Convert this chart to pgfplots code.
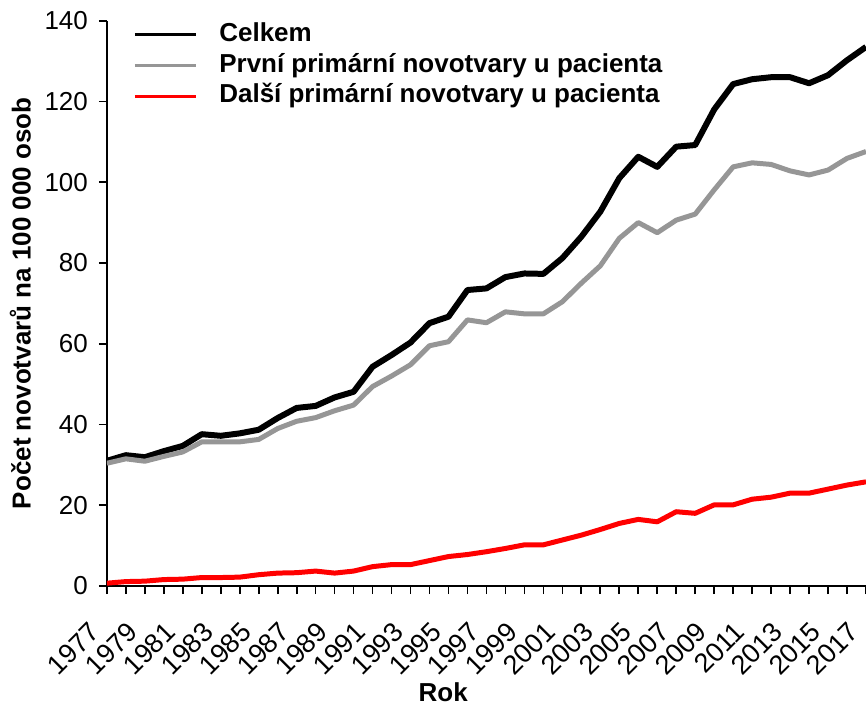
\documentclass[border=0pt]{standalone}
\usepackage{fontspec}
\setmainfont{Liberation Sans}
\usepackage{pgfplots}
\pgfplotsset{compat=1.18}

\definecolor{prvni}{RGB}{150,150,150}
\definecolor{dalsi}{RGB}{255,0,0}

% rok, celkem, prvni, dalsi
\pgfplotstableread{
rok celkem prvni dalsi
1977 31.0 30.4 0.7
1978 32.4 31.5 1.1
1979 31.9 30.9 1.2
1980 33.4 32.1 1.6
1981 34.7 33.2 1.7
1982 37.6 35.7 2.1
1983 37.2 35.7 2.1
1984 37.8 35.7 2.2
1985 38.7 36.3 2.8
1986 41.6 39.0 3.2
1987 44.1 40.8 3.3
1988 44.6 41.7 3.7
1989 46.7 43.4 3.2
1990 48.1 44.8 3.7
1991 54.3 49.4 4.8
1992 57.2 52.0 5.3
1993 60.3 54.8 5.3
1994 65.1 59.5 6.3
1995 66.7 60.5 7.3
1996 73.3 65.9 7.8
1997 73.7 65.2 8.5
1998 76.5 67.9 9.3
1999 77.4 67.4 10.2
2000 77.3 67.4 10.2
2001 81.2 70.4 11.4
2002 86.5 75.0 12.6
2003 92.7 79.3 14.0
2004 101.0 86.1 15.5
2005 106.3 90.0 16.5
2006 103.8 87.5 15.9
2007 108.8 90.6 18.4
2008 109.2 92.1 18.0
2009 118.0 98.1 20.1
2010 124.3 103.8 20.1
2011 125.5 104.8 21.5
2012 126.0 104.4 22.0
2013 126.0 102.8 23.0
2014 124.5 101.8 23.0
2015 126.5 103.0 24.0
2016 130.2 105.9 25.0
2017 133.5 107.6 25.8
}\data

\begin{document}
\begin{tikzpicture}
\begin{axis}[
  scale only axis,
  width=380pt, height=283pt,
  xmin=1977, xmax=2017,
  ymin=0, ymax=140,
  axis x line*=bottom, axis y line*=left,
  axis line style={line width=0.85pt},
  tick align=outside,
  tick style={black, line width=0.85pt},
  major tick length=4pt, minor tick length=4pt,
  xtick={1977,1979,...,2017},
  minor xtick={1978,1980,...,2016},
  ytick={0,20,...,140},
  /pgf/number format/assume math mode=true,
  ticklabel style={font=\fontsize{13}{15}\selectfont},
  xticklabel style={/pgf/number format/1000 sep={}, font=\fontsize{13.5}{15}\selectfont,
    xshift=-1pt, yshift=-2pt, rotate=45, anchor=east, inner xsep=7pt, inner ysep=1pt},
  xticklabel shift=9.6pt,
  yticklabel style={xshift=-2pt},
  xlabel={Rok},
  ylabel={Počet novotvarů na 100 000 osob},
  label style={font=\bfseries\fontsize{13}{15}\selectfont},
  xlabel style={at={(rel axis cs:0.443,0)}, anchor=north, yshift=-45pt},
  legend style={draw=none, fill=none, at={(rel axis cs:0,1)}, anchor=north west,
    xshift=13pt, yshift=1pt, inner sep=0pt, column sep=10pt, row sep=0pt,
    nodes={inner sep=1pt, text height=10pt, text depth=3.5pt},
    font=\bfseries\fontsize{13}{15}\selectfont},
  legend cell align=left,
  legend image code/.code={\draw[#1, line width=1.6pt] (0pt,0pt) -- (30.5pt,0pt);},
  line join=round,
]
\addplot[black, line width=3pt] table[x=rok, y=celkem] {\data};
\addplot[prvni, line width=2.5pt] table[x=rok, y=prvni] {\data};
\addplot[dalsi, line width=2.5pt] table[x=rok, y=dalsi] {\data};
\legend{Celkem, První primární novotvary u pacienta, Další primární novotvary u pacienta}
\coordinate (bl) at ([xshift=-53.5pt, yshift=-59.7pt]rel axis cs:0,0);
\coordinate (tr) at ([yshift=10.35pt]rel axis cs:1,1);
\end{axis}
\pgfresetboundingbox
\path[use as bounding box] (bl) rectangle (tr);
\end{tikzpicture}
\end{document}
